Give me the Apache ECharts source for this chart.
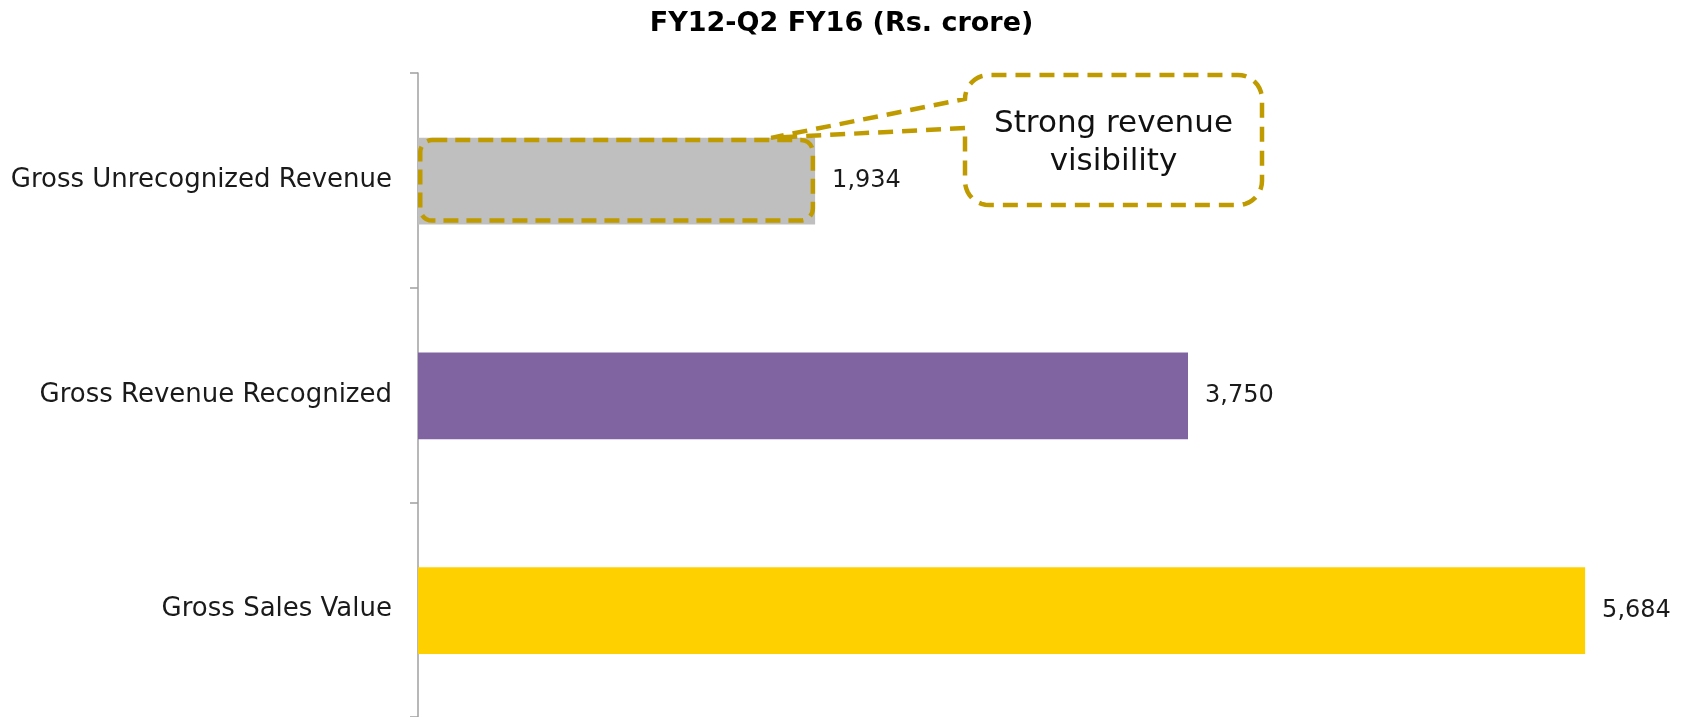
<!DOCTYPE html>
<html>
<head>
<meta charset="utf-8">
<script src="https://cdn.jsdelivr.net/npm/echarts@6/dist/echarts.min.js"></script>
<style>
html,body{margin:0;padding:0;background:#fff;}
#main{width:1683px;height:717px;}
</style>
</head>
<body>
<div id="main"></div>
<script>
// ---- data ----
const titleText = 'FY12-Q2 FY16 (Rs. crore)';
const categories = ['Gross Sales Value', 'Gross Revenue Recognized', 'Gross Unrecognized Revenue'];
const values = [5684, 3750, 1934];
const highlightCategory = 'Gross Unrecognized Revenue';
const calloutText = 'Strong revenue\nvisibility';

// ---- styles ----
const barColors = ['#FFD000', '#8064A2', '#BFBFBF'];
const gold = '#BF9B00';
const font = 'DejaVu Sans';

const chart = echarts.init(document.getElementById('main'), null, {renderer: 'canvas'});
const hiIdx = categories.indexOf(highlightCategory);

const option = {
  animation: false,
  backgroundColor: '#ffffff',
  title: {
    text: titleText,
    left: 'center',
    top: 5,
    textStyle: {fontFamily: font, fontSize: 27, fontWeight: 'bold', color: '#000'}
  },
  grid: {left: 418, right: 33, top: 73, height: 646, containLabel: false},
  xAxis: {type: 'value', min: 0, max: 6000, show: false},
  yAxis: {
    type: 'category',
    data: categories,
    axisLine: {show: true, lineStyle: {color: '#A0A0A0', width: 1.5}},
    axisTick: {show: true, length: 8, lineStyle: {color: '#A0A0A0', width: 1.5}},
    axisLabel: {margin: 26, fontFamily: font, fontSize: 26, color: '#1a1a1a'},
    splitLine: {show: false}
  },
  series: [
    {
      type: 'bar',
      data: values.map((v, i) => ({value: v, itemStyle: {color: barColors[i]}})),
      barWidth: '40.4%',
      label: {
        show: true, position: 'right', distance: 17,
        fontFamily: font, fontSize: 24, color: '#1a1a1a',
        formatter: p => p.value.toLocaleString('en-US')
      },
      z: 2
    },
    {
      type: 'bar',
      data: values.map((v, i) => i === hiIdx ? v : null),
      barWidth: '39.6%',
      barGap: '-100%',
      itemStyle: {
        color: 'rgba(0,0,0,0)',
        borderColor: gold,
        borderWidth: 4.5,
        borderType: [15, 8],
        borderRadius: 12
      },
      silent: true,
      z: 3
    }
  ]
};
chart.setOption(option);

// callout anchored to the end of the highlighted bar
const endPt = chart.convertToPixel({gridIndex: 0}, [values[hiIdx], categories[hiIdx]]);
const bandH = 646 / categories.length;
const barTop = endPt[1] - bandH * 0.404 / 2;
const tipX = endPt[0] - 44, tipY = barTop + 1;
const x0 = 965, y0 = 75, x1 = 1262, y1 = 205, r = 24;

function arcPts(cx, cy, rad, a0, a1, n) {
  const pts = [];
  for (let k = 0; k <= n; k++) {
    const a = a0 + (a1 - a0) * k / n;
    pts.push([cx + rad * Math.cos(a), cy + rad * Math.sin(a)]);
  }
  return pts;
}
const P = Math.PI;
const pts = [].concat(
  [[x0, 128], [tipX, tipY], [x0, y0 + r]],
  arcPts(x0 + r, y0 + r, r, P, 1.5 * P, 10),
  arcPts(x1 - r, y0 + r, r, 1.5 * P, 2 * P, 10),
  arcPts(x1 - r, y1 - r, r, 0, 0.5 * P, 10),
  arcPts(x0 + r, y1 - r, r, 0.5 * P, P, 10)
);

chart.setOption({
  graphic: [
    {
      type: 'polygon',
      shape: {points: pts},
      style: {fill: '#ffffff', stroke: gold, lineWidth: 4.5, lineDash: [15, 9]},
      z: 10
    },
    {
      type: 'text',
      x: (x0 + x1) / 2,
      y: 143,
      style: {
        text: calloutText,
        fontFamily: font, fontSize: 31, fill: '#111',
        align: 'center', verticalAlign: 'middle', lineHeight: 38
      },
      z: 11
    }
  ]
});
</script>
</body>
</html>
